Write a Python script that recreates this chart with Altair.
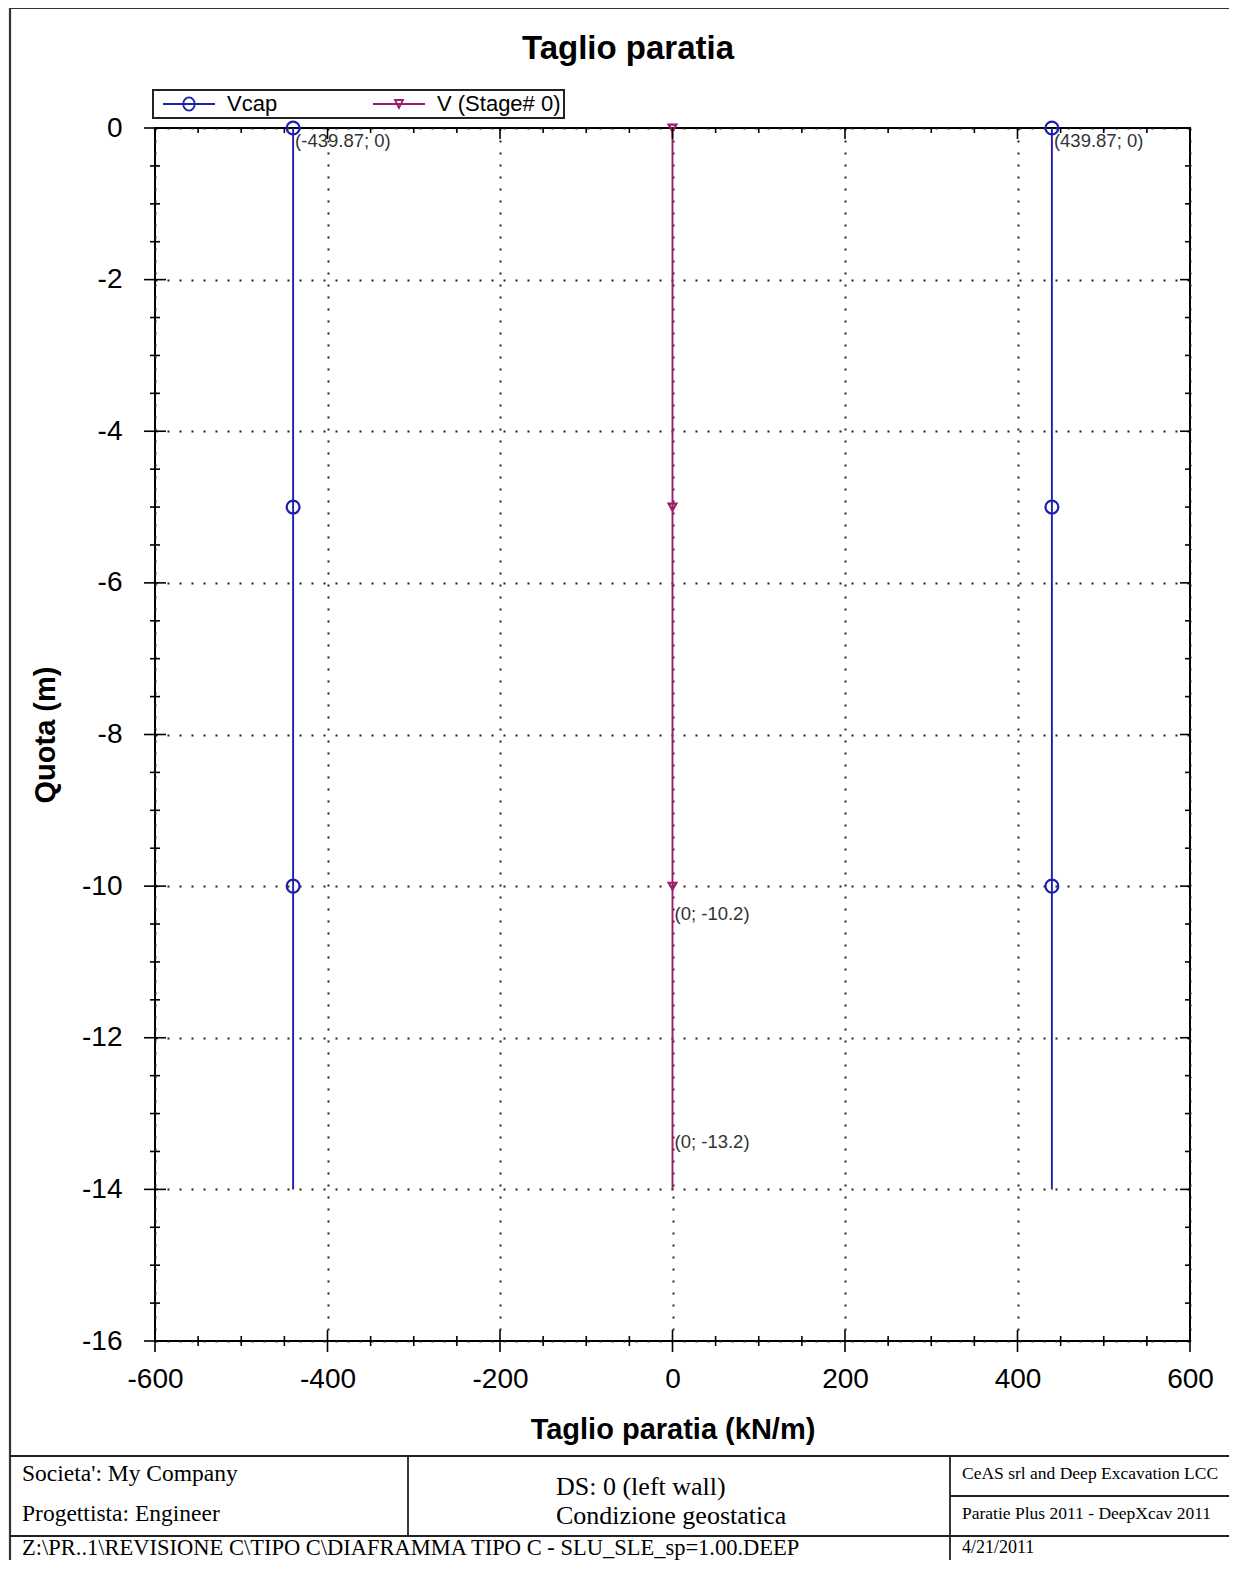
import altair as alt
import pandas as pd

# ---------------- data ----------------
series_names = ["Vcap", "V (Stage# 0)"]
series_colors = ["#1f1fae", "#9e1c6c"]

vcap_left_x = [-439.87, -439.87, -439.87, -439.87]
vcap_right_x = [439.87, 439.87, 439.87, 439.87]
vcap_depth = [0, -5, -10, -14]
v_x = [0, 0, 0, 0]
v_depth = [0, -5, -10, -14]

vcap_marker_left_x = [-439.87, -439.87, -439.87]
vcap_marker_right_x = [439.87, 439.87, 439.87]
vcap_marker_depth = [0, -5, -10]
v_marker_x = [0, 0, 0]
v_marker_depth = [0, -5, -10]

label_x = [-439.87, 439.87, 0, 0]
label_y = [0, 0, -10.2, -13.2]
label_text = ["(-439.87; 0)", "(439.87; 0)", "(0; -10.2)", "(0; -13.2)"]

x_major = [-600, -400, -200, 0, 200, 400, 600]
x_minor = [-550, -500, -450, -350, -300, -250, -150, -100, -50,
           50, 100, 150, 250, 300, 350, 450, 500, 550]
y_major = [0, -2, -4, -6, -8, -10, -12, -14, -16]
y_minor = [-0.5, -1, -1.5, -2.5, -3, -3.5, -4.5, -5, -5.5, -6.5, -7, -7.5,
           -8.5, -9, -9.5, -10.5, -11, -11.5, -12.5, -13, -13.5, -14.5, -15, -15.5]

chart_title = "Taglio paratia"
x_title = "Taglio paratia (kN/m)"
y_title = "Quota (m)"
footer_company = "Societa': My Company"
footer_designer = "Progettista: Engineer"
footer_ds = "DS: 0 (left wall)"
footer_cond = "Condizione geostatica"
footer_ceas = "CeAS srl and Deep Excavation LCC"
footer_soft = "Paratie Plus 2011 - DeepXcav 2011"
footer_file = "Z:\\PR..1\\REVISIONE C\\TIPO C\\DIAFRAMMA TIPO C - SLU_SLE_sp=1.00.DEEP"
footer_date = "4/21/2011"

# ---------------- layout constants ----------------
W, H = 1035, 1213
SANS = "Liberation Sans"
SERIF = "Liberation Serif"
BLUE, PURPLE = series_colors

xs = alt.Scale(domain=[-600, 600], nice=False, zero=False)
ys = alt.Scale(domain=[-16, 0], nice=False, zero=False)

x_axis = alt.Axis(values=x_major, labelExpr="'' + datum.value", labelFontSize=28,
                  labelFont=SANS, labelColor="black", labelPadding=24, ticks=False,
                  tickSize=0, domain=False, grid=True, gridDash=[2, 10],
                  gridColor="#222222", gridWidth=2, title=x_title, titleFontSize=29,
                  titleFont=SANS, titleFontWeight="bold", titleColor="black",
                  titlePadding=22, labelFlush=False, labelOverlap=False, labelBound=False)
y_axis = alt.Axis(values=y_major, labelExpr="'' + datum.value", labelFontSize=28,
                  labelFont=SANS, labelColor="black", labelPadding=33, ticks=False,
                  tickSize=0, domain=False, grid=True, gridDash=[2, 10],
                  gridColor="#222222", gridWidth=2, title=y_title, titleFontSize=29,
                  titleFont=SANS, titleFontWeight="bold", titleColor="black",
                  titlePadding=21, labelFlush=False, labelOverlap=False, labelBound=False)


def X(field="x"):
    return alt.X(f"{field}:Q", scale=xs, axis=x_axis)


def Y(field="y"):
    return alt.Y(f"{field}:Q", scale=ys, axis=y_axis)


# ---------------- data frames ----------------
vcap_df = pd.DataFrame({"x": vcap_left_x + vcap_right_x,
                        "y": vcap_depth + vcap_depth,
                        "side": ["sx"] * len(vcap_left_x) + ["dx"] * len(vcap_right_x)})
v_df = pd.DataFrame({"x": v_x, "y": v_depth})
vcap_pts_df = pd.DataFrame({"x": vcap_marker_left_x + vcap_marker_right_x,
                            "y": vcap_marker_depth + vcap_marker_depth})
v_pts_df = pd.DataFrame({"x": v_marker_x, "y": v_marker_depth})
ann_df = pd.DataFrame({"x": label_x, "y": label_y, "t": label_text})

vcap_line = alt.Chart(vcap_df).mark_line(color=BLUE, strokeWidth=1.9).encode(
    x=X(), y=Y(), detail="side:N", order=alt.Order("y:Q", sort="descending"))
v_line = alt.Chart(v_df).mark_line(color=PURPLE, strokeWidth=1.9).encode(
    x=X(), y=Y(), order=alt.Order("y:Q", sort="descending"))
vcap_pts = alt.Chart(vcap_pts_df).mark_point(shape="circle", size=165, color=BLUE,
                                             strokeWidth=2.2, filled=False, opacity=1).encode(x=X(), y=Y())
v_pts = alt.Chart(v_pts_df).mark_point(shape="triangle-down", size=60, color=PURPLE,
                                       strokeWidth=2.2, filled=False, opacity=1).encode(x=X(), y=Y())
ann = alt.Chart(ann_df).mark_text(align="left", baseline="top", dx=2, dy=4, fontSize=18.5,
                                  font=SANS, color="#333333").encode(x=X(), y=Y(), text="t:N")

# ---------------- legend ----------------
vcap_path = "M-0.57,0H6.86M2.32,0A0.82,0.95,0,1,1,3.96,0A0.82,0.95,0,1,1,2.32,0Z"
v_path = "M-0.57,0H6.86M2.57,-0.57H3.71L3.14,0.57Z"
leg = alt.Legend(orient="none", legendX=-2, legendY=-38, direction="horizontal", title=None,
                 strokeColor="#222222", fillColor="white", padding=3, labelFontSize=22,
                 labelFont=SANS, labelColor="black", symbolSize=196, symbolStrokeWidth=1.8,
                 labelOffset=49, columnPadding=88)
legend_df = pd.DataFrame({"serie": series_names, "x": [0.0, 0.0], "y": [0.0, 0.0]})
legend_layer = alt.Chart(legend_df).transform_filter("false").mark_point(
    size=196, strokeWidth=1.8, filled=False, opacity=1).encode(
    x=X(), y=Y(),
    color=alt.Color("serie:N", scale=alt.Scale(domain=series_names, range=series_colors), legend=leg),
    shape=alt.Shape("serie:N", scale=alt.Scale(domain=series_names, range=[vcap_path, v_path]), legend=leg),
)

# ---------------- ticks (inside/outside) ----------------
def xticks(values, a, b):
    return alt.Chart(pd.DataFrame({"x": values})).mark_rule(color="black", strokeWidth=1.6).encode(
        x=X(), y=alt.value(a), y2=alt.value(b))


def yticks(values, a, b):
    return alt.Chart(pd.DataFrame({"y": values})).mark_rule(color="black", strokeWidth=1.6).encode(
        y=Y(), x=alt.value(a), x2=alt.value(b))


tick_layers = [
    xticks(x_major, H - 11, H + 11), xticks(x_minor, H - 5, H + 5),
    xticks(x_major, 0, 11), xticks(x_minor, 0, 5),
    yticks(y_major, -11, 11), yticks(y_minor, -5, 5),
    yticks(y_major, W - 10, W), yticks(y_minor, W - 5, W),
]

# ---------------- frame, title and footer ----------------
ONE = alt.Data(values=[{}])


def seg(x1, y1, x2, y2, w=1.8, c="#222222"):
    return alt.Chart(ONE).mark_rule(color=c, strokeWidth=w).encode(
        x=alt.value(x1), x2=alt.value(x2), y=alt.value(y1), y2=alt.value(y2))


def txt(t, x, y, size, font=SERIF, align="left", weight="normal"):
    return alt.Chart(ONE).mark_text(text=t, align=align, baseline="middle", font=font,
                                    fontSize=size, fontWeight=weight, color="black").encode(
        x=alt.value(x), y=alt.value(y))


decor = [
    seg(-145, -120, -145, 1440, 2.2, "#333333"),
    seg(-145, -120, 1085, -120, 2.2, "#333333"),
    seg(-145, 1328, 1085, 1328),
    seg(253, 1328, 253, 1408),
    seg(-145, 1408, 1085, 1408),
    seg(795, 1328, 795, 1440),
    seg(795, 1368, 1085, 1368),
    txt(chart_title, 473, -79, 33, SANS, "center", "bold"),
    txt(footer_company, -133, 1346, 23.5),
    txt(footer_designer, -133, 1386, 23.5),
    txt(footer_ds, 401, 1359, 26),
    txt(footer_cond, 401, 1388, 26),
    txt(footer_ceas, 807, 1346, 17.5),
    txt(footer_soft, 807, 1386, 17.5),
    txt(footer_file, -133, 1420, 22.5),
    txt(footer_date, 807, 1420, 18),
]

chart = alt.layer(
    vcap_line, v_line, vcap_pts, v_pts, ann, *tick_layers, legend_layer, *decor
).properties(
    width=W, height=H,
    autosize=alt.AutoSizeParams(type="none"),
    padding={"left": 147, "top": 120, "right": 39, "bottom": 219},
    background="white",
).configure_view(stroke="black", strokeWidth=2).configure_legend(strokeWidth=2)

chart.save("out.html", embed_options={"renderer": "svg", "actions": False})
